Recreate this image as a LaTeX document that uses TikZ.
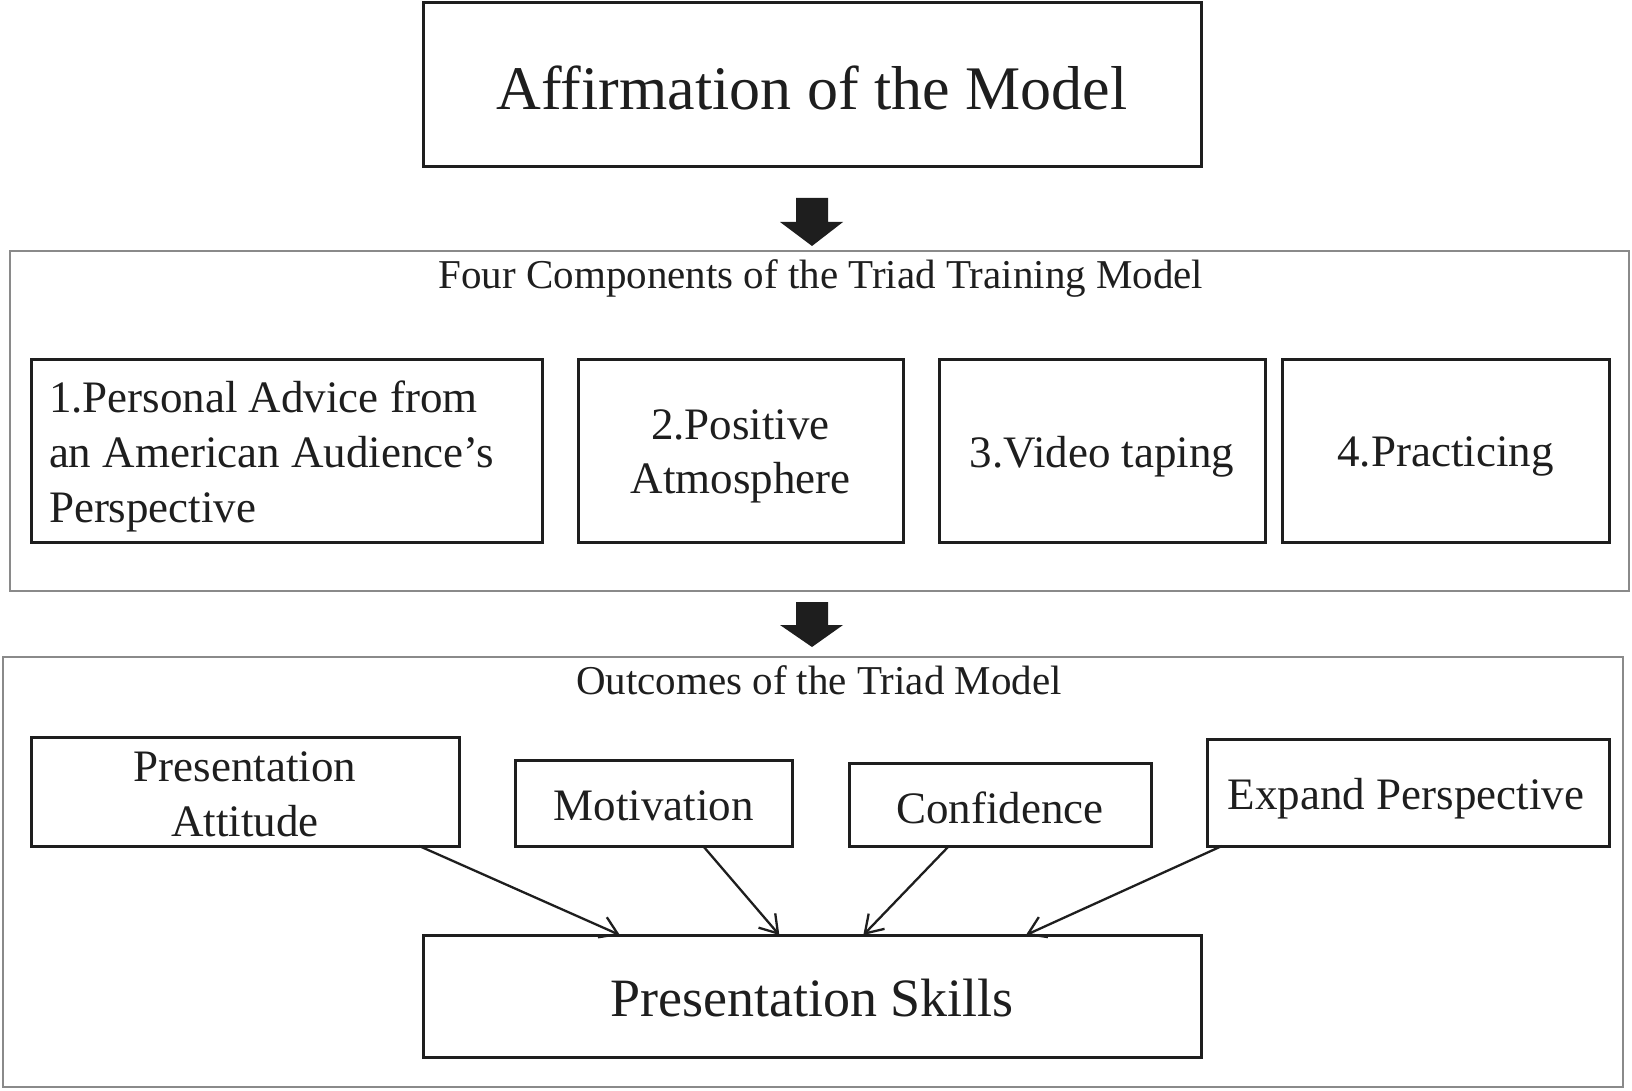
\documentclass[tikz,border=0pt]{standalone}
\usepackage{fontspec}
\setmainfont{Liberation Serif}
\usetikzlibrary{arrows.meta,calc}
\definecolor{framegray}{HTML}{8A8A8A}
\definecolor{ink}{HTML}{1E1E1E}
\tikzset{
  blk/.style={draw=ink, line width=3pt, inner sep=0pt, outer sep=0pt},
  txt/.style={inner sep=0pt, outer sep=0pt, align=center, text=ink},
  grp/.style={draw=framegray, line width=2.5pt, inner sep=0pt, outer sep=0pt},
  ttl/.style={inner sep=0pt, text=ink, font=\fontsize{41}{48}\selectfont},
  itm/.style={font=\fontsize{45}{54.6}\selectfont},
  conn/.style={draw=ink, line width=2.3pt, -{Straight Barb[length=17pt,width=22pt]}},
  bigarrow/.style={fill=ink, draw=none}
}
\begin{document}
\begin{tikzpicture}[x=1pt,y=-1pt]
\useasboundingbox (0,0) rectangle (1632,1091);
% outer groups
\node[grp, minimum width=1619, minimum height=340] (comp) at (819.5,421) {};
\node[grp, minimum width=1620, minimum height=430] (outc) at (813,872) {};
% top
\node[blk, minimum width=778, minimum height=164] (top) at (812,85) {};
\node[txt, font=\fontsize{62}{70}\selectfont] (topt) at ([yshift=-3]top.center) {Affirmation of the Model};
% titles
\node[ttl] (t2) at (821,278) {Four Components of the Triad Training Model};
\node[ttl] (t3) at (819,680) {Outcomes of the Triad Model};
% components
\node[blk, minimum width=511, minimum height=183] (b1) at (286.5,450.5) {};
\node[txt, itm, align=left, anchor=west] (b1t) at ([xshift=18,yshift=-6]b1.west) {1.Personal Advice from\\an American Audience's\\Perspective};
\node[blk, minimum width=325, minimum height=183] (b2) at (740.5,450.5) {};
\node[txt, itm] (b2t) at ([yshift=-6]b2.center) {2.Positive\\Atmosphere};
\node[blk, minimum width=326, minimum height=183] (b3) at (1102,450.5) {};
\node[txt, itm] (b3t) at ([yshift=-6]b3.center) {3.Video taping};
\node[blk, minimum width=327, minimum height=183] (b4) at (1445.5,450.5) {};
\node[txt, itm] (b4t) at ([yshift=-6]b4.center) {4.Practicing};
% outcomes
\node[blk, minimum width=428, minimum height=109] (pa) at (245,791.5) {};
\node[txt, itm] (pat) at ([yshift=-3]pa.center) {Presentation\\Attitude};
\node[blk, minimum width=277, minimum height=86] (mot) at (653.5,803) {};
\node[txt, itm] (mott) at ([yshift=-3]mot.center) {Motivation};
\node[blk, minimum width=302, minimum height=83] (conf) at (1000,804.5) {};
\node[txt, itm] (conft) at ([yshift=-3]conf.center) {Confidence};
\node[blk, minimum width=402, minimum height=107] (exp) at (1408,792.5) {};
\node[txt, itm] (expt) at ([xshift=-2,yshift=-6]exp.center) {Expand Perspective};
\node[blk, minimum width=778, minimum height=122] (ps) at (812,996) {};
\node[txt, font=\fontsize{54}{62}\selectfont] (pst) at ([yshift=-2]ps.center) {Presentation Skills};
% block arrows
\fill[bigarrow] (796,198) -- (828,198) -- (828,222) -- (843,222) -- (812,246) -- (780,222) -- (796,222) -- cycle;
\fill[bigarrow] (796,602) -- (828,602) -- (828,625) -- (843,625) -- (812,647) -- (780,625) -- (796,625) -- cycle;
% connectors
\draw[conn] ($(pa.south west)!0.907!(pa.south east)$) -- ($(ps.north west)!0.253!(ps.north east)$);
\draw[conn] ($(mot.south west)!0.679!(mot.south east)$) -- ($(ps.north west)!0.458!(ps.north east)$);
\draw[conn] ($(conf.south west)!0.331!(conf.south east)$) -- ($(ps.north west)!0.566!(ps.north east)$);
\draw[conn] ($(exp.south west)!0.037!(exp.south east)$) -- ($(ps.north west)!0.775!(ps.north east)$);
\end{tikzpicture}
\end{document}
